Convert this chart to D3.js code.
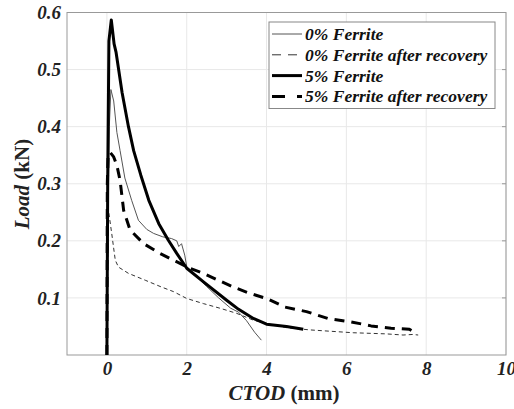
<!DOCTYPE html>
<html lang="en">
<head>
<meta charset="utf-8">
<title>Load vs CTOD</title>
<script src="https://cdn.jsdelivr.net/npm/d3@7"></script>
<style>
  body { margin: 0; background: #fff; }
</style>
</head>
<body>
<div class="visualization"></div>
<script>
// data, [CTOD (mm), Load (kN)]
var ferrite0 = [[0,0],[0.02,0.2],[0.06,0.4],[0.1,0.465],[0.17,0.445],[0.25,0.39],[0.33,0.358],[0.45,0.31],
  [0.62,0.271],[0.79,0.236],[1.0,0.22],[1.17,0.213],[1.4,0.207],[1.62,0.204],[1.75,0.2],[1.8,0.19],
  [1.87,0.195],[1.95,0.175],[2.0,0.155],[2.25,0.137],[2.5,0.12],[2.8,0.1],[3.1,0.082],[3.3,0.075],
  [3.5,0.06],[3.7,0.04],[3.87,0.026]];
var ferrite0Rec = [[0,0],[0.02,0.15],[0.04,0.253],[0.12,0.213],[0.21,0.166],[0.29,0.154],[0.54,0.143],
  [0.96,0.131],[1.37,0.119],[1.67,0.111],[2.0,0.099],[2.42,0.09],[2.83,0.082],[3.25,0.073],[3.67,0.061],
  [4.0,0.055],[4.5,0.048],[5.08,0.044],[6.17,0.039],[7.0,0.037],[7.42,0.035],[7.67,0.036],[7.8,0.035]];
var ferrite5 = [[0,0],[0.02,0.3],[0.05,0.55],[0.11,0.587],[0.18,0.545],[0.23,0.53],[0.38,0.46],[0.54,0.4],
  [0.67,0.358],[0.85,0.315],[1.05,0.271],[1.3,0.23],[1.54,0.201],[1.75,0.178],[2.0,0.152],[2.42,0.128],
  [3.0,0.096],[3.3,0.08],[3.67,0.064],[4.0,0.054],[4.5,0.05],[4.92,0.045]];
var ferrite5Rec = [[0,0],[0.01,0.3],[0.03,0.35],[0.08,0.355],[0.17,0.347],[0.25,0.332],[0.33,0.306],
  [0.42,0.253],[0.58,0.219],[0.92,0.195],[1.33,0.178],[1.67,0.166],[2.08,0.152],[2.42,0.143],
  [2.79,0.131],[3.17,0.119],[3.58,0.108],[4.0,0.099],[4.46,0.084],[5.0,0.076],[5.54,0.064],[6.12,0.058],
  [6.62,0.051],[7.12,0.047],[7.58,0.045],[7.7,0.04]];

var seriesNames = ["0% Ferrite", "0% Ferrite after recovery", "5% Ferrite", "5% Ferrite after recovery"];
var xTicks = [0, 2, 4, 6, 8, 10];
var yTicks = [0.1, 0.2, 0.3, 0.4, 0.5, 0.6];

var Vis = {};
Vis.width = 514;
Vis.height = 409;
Vis.left = 67;
Vis.right = 506;
Vis.top = 12.5;
Vis.bottom = 355;
Vis.font = "Liberation Serif";

Vis.styles = [
  {color: "#555", width: 1, dash: null, legendDash: null},
  {color: "#333", width: 1, dash: "4,3", legendDash: "9,7"},
  {color: "#000", width: 3, dash: null, legendDash: null},
  {color: "#000", width: 3, dash: "10,7", legendDash: "13,12"}
];

Vis.xScale = d3.scaleLinear().domain([-1, 10]).range([Vis.left, Vis.right]);
Vis.yScale = d3.scaleLinear().domain([0, 0.6]).range([Vis.bottom, Vis.top]);

Vis.svg = d3.select(".visualization").append("svg")
  .attr("width", Vis.width)
  .attr("height", Vis.height);

// grid
Vis.svg.append("g").selectAll("line").data(xTicks).enter().append("line")
  .attr("x1", d => Vis.xScale(d)).attr("x2", d => Vis.xScale(d))
  .attr("y1", Vis.top).attr("y2", Vis.bottom)
  .attr("stroke", "#e8e8e8");
Vis.svg.append("g").selectAll("line").data(yTicks).enter().append("line")
  .attr("x1", Vis.left).attr("x2", Vis.right)
  .attr("y1", d => Vis.yScale(d)).attr("y2", d => Vis.yScale(d))
  .attr("stroke", "#e8e8e8");

// axes (box style)
Vis.xAxis = d3.axisBottom(Vis.xScale).tickValues(xTicks).tickSize(0).tickPadding(7)
  .tickFormat(d => String(d));
Vis.yAxis = d3.axisLeft(Vis.yScale).tickValues(yTicks).tickSize(0).tickPadding(6)
  .tickFormat(d => String(d));

Vis.svg.append("g")
  .attr("transform", "translate(0," + Vis.bottom + ")")
  .call(Vis.xAxis)
  .call(g => g.select(".domain").remove())
  .selectAll("text").attr("font-family", Vis.font).attr("font-weight", "bold")
  .attr("font-size", 19).attr("font-style", "italic").attr("fill", "#222");
Vis.svg.append("g")
  .attr("transform", "translate(" + Vis.left + ",0)")
  .call(Vis.yAxis)
  .call(g => g.select(".domain").remove())
  .selectAll("text").attr("font-family", Vis.font).attr("font-weight", "bold")
  .attr("font-size", 19).attr("font-style", "italic").attr("fill", "#222");

Vis.svg.append("rect")
  .attr("x", Vis.left).attr("y", Vis.top)
  .attr("width", Vis.right - Vis.left).attr("height", Vis.bottom - Vis.top)
  .attr("fill", "none").attr("stroke", "#999");

// small inward ticks on right side
Vis.svg.append("g").selectAll("line").data(yTicks).enter().append("line")
  .attr("x1", Vis.right - 4).attr("x2", Vis.right)
  .attr("y1", d => Vis.yScale(d)).attr("y2", d => Vis.yScale(d))
  .attr("stroke", "#999");

// curves
Vis.line = d3.line().x(d => Vis.xScale(d[0])).y(d => Vis.yScale(d[1]));
Vis.series = [ferrite0, ferrite0Rec, ferrite5Rec, ferrite5];
Vis.seriesStyle = [0, 1, 3, 2];
Vis.svg.append("g").selectAll("path").data(Vis.series).enter().append("path")
  .attr("d", d => Vis.line(d))
  .attr("fill", "none")
  .attr("stroke", (d, i) => Vis.styles[Vis.seriesStyle[i]].color)
  .attr("stroke-width", (d, i) => Vis.styles[Vis.seriesStyle[i]].width)
  .attr("stroke-dasharray", (d, i) => Vis.styles[Vis.seriesStyle[i]].dash)
  .attr("stroke-linejoin", "round");

// legend
Vis.legend = Vis.svg.append("g");
Vis.legend.append("rect")
  .attr("x", 269).attr("y", 22).attr("width", 226).attr("height", 86.5)
  .attr("fill", "#fff").attr("stroke", "#888");
Vis.legendRows = Vis.legend.selectAll("g.row").data(seriesNames).enter().append("g")
  .attr("class", "row")
  .attr("transform", (d, i) => "translate(272," + (34 + i * 20.8) + ")");
Vis.legendRows.append("line")
  .attr("x1", 0).attr("x2", 30)
  .attr("stroke", (d, i) => Vis.styles[i].color)
  .attr("stroke-width", (d, i) => Vis.styles[i].width)
  .attr("stroke-dasharray", (d, i) => Vis.styles[i].legendDash);
Vis.legendRows.append("text")
  .attr("x", 33).attr("y", 6)
  .attr("font-family", Vis.font).attr("font-weight", "bold")
  .attr("font-size", 17.5).attr("font-style", "italic").attr("fill", "#111")
  .text(d => d);

// axis labels
Vis.xLabel = Vis.svg.append("text")
  .attr("x", 284).attr("y", 400)
  .attr("font-family", Vis.font).attr("font-weight", "bold")
  .attr("text-anchor", "middle").attr("font-size", 21).attr("fill", "#222");
Vis.xLabel.append("tspan").attr("font-style", "italic").text("CTOD");
Vis.xLabel.append("tspan").text(" (mm)");

Vis.yLabel = Vis.svg.append("text")
  .attr("transform", "translate(29,184) rotate(-90)")
  .attr("font-family", Vis.font).attr("font-weight", "bold")
  .attr("text-anchor", "middle").attr("font-size", 21).attr("fill", "#222");
Vis.yLabel.append("tspan").attr("font-style", "italic").text("Load");
Vis.yLabel.append("tspan").text(" (kN)");
</script>
</body>
</html>
